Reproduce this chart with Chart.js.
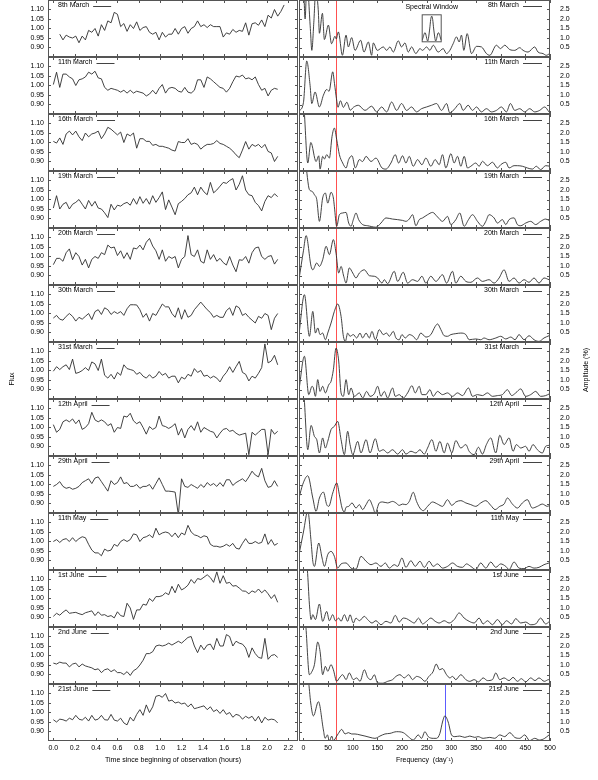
<!DOCTYPE html>
<html><head><meta charset="utf-8">
<script src="https://cdn.jsdelivr.net/npm/chart.js@4.4.0/dist/chart.umd.min.js"></script>
<style>
html,body{margin:0;padding:0;background:#fff;}
body{width:598px;height:780px;position:relative;overflow:hidden;}
canvas{position:absolute;}
</style></head><body>
<script>
// ---------- tick labels / categories ----------
const TIMES = [0,0.03,0.06,0.09,0.12,0.15,0.18,0.21,0.24,0.27,0.3,0.33,0.36,0.39,0.42,0.45,0.48,0.51,0.54,0.57,0.6,0.63,0.66,0.69,0.72,0.75,0.78,0.81,0.84,0.87,0.9,0.93,0.96,0.99,1.02,1.05,1.08,1.11,1.14,1.17,1.2,1.23,1.26,1.29,1.32,1.35,1.38,1.41,1.44,1.47,1.5,1.53,1.56,1.59,1.62,1.65,1.68,1.71,1.74,1.77,1.8,1.83,1.86,1.89,1.92,1.95,1.98,2.01,2.04,2.07,2.1,2.13,2.16];
const TIME_TICKS = [0,0.2,0.4,0.6,0.8,1.0,1.2,1.4,1.6,1.8,2.0,2.2];
const FLUX_TICKS = [0.90,0.95,1.00,1.05,1.10];
const FREQ_TICKS = [0,50,100,150,200,250,300,350,400,450,500];
const AMP_TICKS = [0.5,1.0,1.5,2.0,2.5];
const DATES = ['8th March','11th March','16th March','19th March','20th March','30th March','31st March','12th April','29th April','11th May','1st June','2nd June','21st June'];
const RED_FREQ = 67;
const BLUE_FREQ = 288;

// ---------- light curves (flux) ----------
const FLUX_08MAR = [null,null,0.97,0.94,0.965,0.955,0.95,0.96,0.925,0.96,0.94,0.99,0.98,1.00,0.96,1.02,0.99,1.04,1.03,1.085,1.075,1.01,1.026,0.985,1.02,1.00,1.035,0.99,1.005,1.01,0.98,0.97,0.98,0.94,0.98,0.955,0.97,0.97,1.00,0.97,1.00,1.01,0.975,1.00,1.01,1.04,1.01,1.02,1.005,1.02,1.01,1.01,1.01,0.955,0.977,0.97,0.995,0.98,0.99,0.985,1.03,0.965,1.025,1.03,1.017,1.045,1.01,1.07,1.055,1.10,1.065,1.09,1.124];
const FLUX_11MAR = [1.005,1.07,0.99,1.06,1.06,1.045,1.035,1.00,1.03,1.035,1.045,1.07,1.06,1.075,1.04,1.035,0.99,0.975,0.985,0.98,0.975,0.965,0.975,0.96,0.975,0.96,0.97,0.965,0.96,0.945,0.955,0.975,0.955,0.985,1.005,0.96,0.985,0.99,0.985,0.97,0.965,0.99,0.965,0.96,0.975,1.03,1.03,0.99,1.045,1.035,1.02,1.005,0.99,0.985,0.965,0.985,1.02,1.05,1.045,1.055,1.035,1.04,1.03,1.045,1.005,0.975,0.985,0.945,0.975,0.985,0.98];
const FLUX_16MAR = [1.006,0.997,1.024,0.99,1.045,1.06,1.04,1.06,1.03,1.01,1.05,1.03,1.045,1.05,1.06,1.02,1.045,1.08,1.07,1.055,1.04,1.055,1.00,1.045,1.035,1.05,0.97,1.02,1.02,1.006,1.006,0.985,0.99,0.98,0.98,0.975,0.97,0.96,0.955,1.005,1.00,1.00,1.02,0.99,0.997,0.99,0.965,0.98,0.99,0.99,0.995,1.01,0.995,0.99,0.98,0.97,0.955,0.935,0.92,0.96,1.005,0.965,0.99,0.98,0.99,0.972,0.99,0.953,0.945,0.90,0.927];
const FLUX_19MAR = [0.955,1.02,0.95,0.975,0.985,0.95,0.975,0.985,1.00,0.975,0.95,0.995,0.965,0.99,0.955,0.95,0.93,0.905,0.975,0.945,0.97,0.965,0.978,0.985,0.97,1.005,0.975,1.015,0.98,1.005,0.975,1.02,0.985,1.01,1.04,0.947,0.998,0.96,0.92,0.978,0.99,1.005,1.025,1.035,1.065,1.025,1.065,1.04,1.025,1.09,1.035,1.05,1.07,1.09,1.085,1.10,1.11,1.05,1.08,1.125,1.05,1.025,1.02,0.985,0.968,0.94,0.99,1.02,1.01,1.03,1.015];
const FLUX_20MAR = [0.957,0.99,0.99,0.975,1.02,1.04,0.983,1.02,1.00,0.955,0.985,0.94,0.985,1.00,0.99,1.02,1.01,1.06,1.045,1.05,1.005,1.03,0.99,1.02,0.985,1.045,1.04,1.06,1.035,1.075,1.095,1.055,1.03,0.985,1.035,0.975,1.00,0.99,1.00,0.94,0.985,1.00,1.11,1.01,1.00,1.035,0.975,0.965,1.035,0.985,1.01,0.975,0.99,0.968,0.955,1.00,0.955,0.92,0.983,0.98,1.00,0.965,1.02,1.045,1.05,1.00,0.985,1.00,1.005,0.96,0.985];
const FLUX_30MAR = [0.976,0.99,0.97,0.965,0.985,1.00,0.985,0.96,0.98,0.97,0.985,1.00,0.968,1.01,1.02,0.995,1.03,1.02,0.995,1.01,1.00,1.01,0.99,1.025,1.046,1.046,1.045,1.02,0.98,1.00,0.96,1.00,0.99,1.02,1.05,1.035,1.035,1.00,0.98,1.03,0.97,1.02,0.98,0.99,1.02,1.04,1.06,1.04,1.02,1.005,0.98,0.99,0.98,0.98,1.015,1.03,0.99,1.04,1.03,0.99,1.00,0.98,0.965,0.95,0.985,0.975,1.00,0.99,0.915,0.975,1.00];
const FLUX_31MAR = [0.996,1.02,1.005,1.02,1.03,1.005,1.06,0.985,0.99,1.00,1.015,1.00,1.045,1.035,1.00,1.06,0.975,0.96,0.98,0.955,0.99,0.975,1.03,1.01,1.005,1.00,0.98,0.99,0.97,0.96,0.978,0.96,0.97,0.995,0.975,0.985,0.96,0.97,0.97,0.935,0.965,0.955,0.98,0.97,1.01,0.99,1.00,0.97,0.975,0.96,0.97,0.96,0.94,0.97,0.99,1.02,0.99,1.02,1.048,0.99,0.98,0.945,0.97,0.96,0.985,1.015,1.14,1.04,1.05,1.08,1.03];
const FLUX_12APR = [1.015,0.975,0.99,1.03,1.04,1.03,1.045,1.02,1.04,0.99,1.00,1.02,1.08,1.04,1.03,1.04,1.03,1.01,1.02,0.975,1.00,0.995,1.06,1.055,1.075,1.035,1.02,1.03,1.00,0.965,1.005,0.99,1.00,1.06,1.01,1.005,0.995,1.005,1.02,0.96,0.995,0.945,0.99,1.01,0.985,1.03,0.975,1.00,0.99,0.98,0.975,0.945,0.97,0.99,0.995,0.98,0.985,0.97,0.96,0.965,0.97,0.857,0.975,0.96,0.975,0.99,0.99,0.857,0.99,0.965,0.98];
const FLUX_29APR = [0.99,1.00,1.015,0.99,0.98,0.985,0.975,0.98,0.99,1.01,1.02,1.03,1.005,1.034,1.04,1.015,0.99,0.965,1.02,1.00,1.01,1.04,1.005,1.01,0.99,0.99,1.00,0.98,0.99,0.99,1.00,0.975,1.005,1.035,1.00,0.965,0.965,0.963,0.96,0.84,1.03,0.99,0.985,1.00,0.99,0.98,1.00,0.985,1.01,0.995,1.005,0.99,1.01,0.99,1.025,1.025,0.995,1.01,1.02,1.03,1.015,1.04,1.07,1.05,1.04,1.085,1.02,0.985,0.99,1.02,0.99];
const FLUX_11MAY = [1.00,1.01,0.995,1.01,1.015,1.00,1.02,1.00,1.015,1.025,1.02,0.985,0.955,0.94,0.94,0.925,0.96,0.95,0.955,0.985,0.975,1.00,1.01,1.00,1.01,1.04,1.035,1.00,1.02,1.025,1.035,1.02,1.07,1.035,1.045,1.05,1.045,1.025,1.045,1.02,1.045,1.035,1.085,1.05,1.035,1.03,1.02,1.03,1.025,0.985,0.975,0.975,0.97,0.975,0.985,0.975,0.99,0.965,0.96,0.99,1.015,0.99,0.99,1.00,0.99,0.995,1.04,0.985,1.01,0.98,0.99];
const FLUX_01JUN = [0.906,0.922,0.912,0.928,0.94,0.922,0.925,0.927,0.92,0.915,0.925,0.93,0.935,0.91,0.93,0.912,0.915,0.905,0.91,0.898,0.93,0.91,0.905,0.975,0.95,0.89,0.94,0.94,0.97,0.965,1.00,0.985,1.01,1.01,1.015,1.03,1.02,1.064,1.03,1.075,1.045,1.055,1.07,1.10,1.08,1.105,1.10,1.112,1.125,1.11,1.085,1.14,1.08,1.12,1.08,1.085,1.065,1.068,1.055,1.04,1.038,1.025,1.04,1.032,1.05,1.03,1.045,1.025,1.00,1.02,0.98];
const FLUX_02JUN = [0.96,0.955,0.965,0.96,0.96,0.94,0.955,0.96,0.94,0.955,0.945,0.94,0.935,0.925,0.93,0.91,0.925,0.93,0.915,0.925,0.91,0.91,0.90,0.915,0.895,0.92,0.93,0.95,0.975,1.01,1.01,1.02,1.05,1.055,1.05,1.055,1.065,1.055,1.065,1.075,1.065,1.08,1.095,1.10,1.05,1.015,1.055,1.03,1.055,1.06,1.03,1.09,1.05,1.05,1.11,1.10,1.05,1.075,1.065,1.06,1.04,0.99,1.04,1.01,0.99,0.985,1.09,0.98,1.00,1.005,0.99];
const FLUX_21JUN = [0.962,0.95,0.965,0.962,0.955,0.97,0.962,0.985,0.965,0.96,0.975,0.955,0.985,0.96,0.965,0.985,0.962,0.96,0.99,0.96,0.955,0.97,0.945,0.935,0.975,0.955,0.99,1.015,0.985,1.04,1.00,1.03,1.085,1.09,1.08,1.10,1.06,1.065,1.05,1.055,1.045,1.05,1.03,1.045,1.02,1.025,1.03,1.035,1.015,1.03,1.005,1.015,0.995,1.015,0.99,1.00,0.975,0.99,0.985,0.965,0.98,0.97,0.98,0.955,0.98,0.945,0.975,0.96,0.965,0.962,0.945];

// ---------- periodograms: frequency (c/d) and amplitude (%) ----------
const F_08MAR = [-9,0,3.4,7,14,17,21,25,30,32.4,38.5,42.5,50.6,57,64,66.5,70.9,79,86.4,91.1,97.8,104.6,116,122.8,131.6,138.3,141.7,149.8,162,168.7,175.4,182.2,192.3,199,205.8,212.6,219.3,228,236.2,241.6,249.7,256.4,263.2,273.3,283.4,290.1,296.9,303.6,310.4,315.8,320.5,325.2,332,340.8,350.9,361,371.1,377.9,391.4,399.5,408.2,418.4,428.5,438.6,445.3,455.5,469,475.7,485.8,492.6,499.3];
const A_08MAR = [5,4,2.0,4,1.5,0.35,1.8,3.5,2.5,1.25,2.3,0.92,1.68,0.7,1.09,0.95,1.32,0.09,1.15,0.53,1.02,0.35,0.88,0.26,0.79,0.09,0.74,0.35,0.53,0.35,0.53,0.26,0.85,0.53,0.74,0.26,0.53,0.18,0.44,0.35,0.53,0.35,0.62,0.26,0.44,0.18,0.35,0.7,1.06,0.79,1.15,0.35,1.23,0.18,0.56,0.53,0.18,0.09,0.62,0.44,0.62,0.39,0.35,0.49,0.35,0.26,0.53,0.26,0.18,0.09,0.18];
const F_11MAR = [-9,0,6.7,13.5,16.9,23.6,32.4,40.5,47.2,52,59.4,63,67,70,75,81,88,95,101.2,111.3,124.8,138.3,148.4,158.6,168.7,178.8,189,199,209.2,219.3,229.4,239.5,249.7,259.8,269.9,280,290.2,296.9,307,317.1,323.9,334,342.8,350.9,361,371.1,381.2,391.4,401.5,411.6,419.7,428.5,438.6,448.7,458.8,469,479,489.2,498];
const A_11MAR = [0.15,0.6,2.79,1.5,0.55,1.16,0.37,0.99,1.29,1.2,2.22,1.6,0.8,0.35,0.7,0.35,0.62,0.2,0.35,0.46,0.19,0.41,0.11,0.37,0.11,0.63,0.19,0.55,0.19,0.37,0.11,0.28,0.37,0.46,0.55,0.19,0.55,0.05,0.28,0.55,0.19,0.46,0.19,0.37,0.11,0.28,0.11,0.19,0.37,0.11,0.55,0.19,0.28,0.11,0.28,0.11,0.19,0.37,0.11];
const F_16MAR = [-9,0,8.8,15,25.6,31,33.7,39,42.5,47.2,52.6,58,62.7,67.5,72.9,79.6,86.4,91.7,98.5,105.3,113.4,120,127,137,147,159.3,167.3,177.4,186.2,193,201,207.8,214.6,222.7,231.5,240.2,248.3,258.4,267.2,275.3,282,288.8,299,305.7,312.4,319.2,326,332.7,339.4,349.5,356.3,363,373.2,383.3,393.4,400,410.3,417,427.1,433.9,444,454.1,464.2,472.3,481,491.2,500];
const A_16MAR = [4,3.6,0.42,1.5,0.5,0.8,0.1,0.77,0.63,0.86,0.68,1.82,2.26,1.65,0.86,0.42,0.16,0.6,0.8,0.16,0.6,0.5,0.77,0.5,0.68,0.16,0.1,0.42,0.86,0.42,0.8,0.42,0.77,0.25,0.6,0.33,0.68,0.25,0.6,0.33,0.86,0.16,0.91,0.42,0.77,0.25,0.77,0.16,0.25,0.42,0.25,0.51,0.28,0.46,0.16,0.33,0.46,0.16,0.28,0.28,0.25,0.16,0.1,0.25,0.07,0.28,0.25];
const F_19MAR = [-9,0,4,12.1,17.5,22.3,27,32.4,39,44.5,49.3,56,60.7,62.7,67.5,72.9,79.6,86.4,91.8,96.5,101.2,106.6,112,120,130.2,147,157.2,167.3,180.8,191,201,207.8,214.6,221.3,228,234.8,241.6,251.7,261.8,272,282,292.2,299,309,317,325.9,334.7,342.8,353,363,369.8,376.5,386.6,393.4,403.5,410.3,417,427.1,433.9,440.6,450.7,460.8,471,481,491.2,498];
const A_19MAR = [4.5,4.0,3.5,2.02,1.93,1.75,1.5,0.35,1.58,1.84,1.31,1.88,1.58,1.14,0.09,0.7,0.79,0.82,0.26,0.09,0.44,0.79,0.44,0.18,0.12,0.04,0.26,0.53,0.47,0.44,0.4,0.35,0.47,0.7,0.12,0.44,0.53,0.7,0.82,0.58,0.35,0.61,0.18,0.44,0.79,0.09,0.44,0.7,0.35,0.09,0.35,0.7,0.53,0.26,0.44,0.18,0.44,0.53,0.18,0.12,0.26,0.35,0.18,0.35,0.47,0.4];
const F_20MAR = [-9,0,5.4,15.5,19,27,32.4,39,46,52.6,60.7,66.1,71.5,76.3,81.7,86.4,93,100,106.6,113.4,123.5,133.6,143.7,150.5,159.3,164,170.7,184.2,191,202.4,211.2,221.3,231.5,240.2,248.3,258.4,268.6,282,290.2,302.3,309,319.2,329.3,339.4,352.9,363,376.5,386.6,396.8,406.9,417,427.1,437.2,447.4,457.5,467.6,477.7,487.8,498];
const A_20MAR = [0.3,1.8,2.6,0.98,0.8,1.16,0.98,1.33,2.04,1.6,2.39,1.68,0.63,0.98,0.46,0.1,0.9,0.63,0.37,0.63,0.8,0.49,0.46,0.37,0.1,0.28,0.07,0.72,0.19,0.67,0.1,0.28,0.19,0.46,0.1,0.46,0.19,0.54,0.1,0.72,0.1,0.46,0.19,0.14,0.37,0.19,0.28,0.1,0.37,0.8,0.19,0.37,0.1,0.28,0.14,0.37,0.1,0.37,0.28];
const F_30MAR = [-9,2,12.1,19,24.3,29,33.7,39,44.5,49.3,56,62.7,69.5,76.3,81,85,89.7,94.5,101.2,108,114.7,120.1,127,133.6,139,145.7,153.8,161.9,168.7,174.1,182.2,187.6,194.3,199.7,206.5,214.6,222.7,229.4,238.2,248.3,258.4,267.2,271.9,278.7,285.4,292.2,299,309,319.2,329.3,336,349.5,359.6,366.4,376.5,390,400,410.3,420.4,429.2,437.2,447.4,457.5,467.6,477.7,487.8,498];
const A_30MAR = [0.4,2.49,0.3,1.61,0.47,0.74,0.39,0.47,0.12,0.47,1.0,1.61,2.0,1.35,0.3,0.03,0.47,0.3,0.39,0.21,0.47,0.21,0.47,0.21,0.56,0.12,0.65,0.39,0.47,0.3,0.56,0.21,0.12,0.39,0.21,0.39,0.3,0.12,0.47,0.26,0.39,0.82,0.95,0.65,0.33,0.3,0.39,0.44,0.47,0.39,0.12,0.16,0.12,0.21,0.12,0.21,0.3,0.16,0.26,0.12,0.39,0.12,0.33,0.12,0.03,0.21,0.33];
const F_31MAR = [-9,2,10.8,17.5,20.2,24.3,29,33.7,39,44.5,51.3,56,60.7,66.1,71.5,76.3,81,86.4,91.8,96.5,103.3,113.4,120.1,128.2,135,143.7,150.5,157.2,164,170.7,180.8,186.2,194.3,202.4,211.2,220,226.7,234.8,240.2,248.3,256.4,263.2,271.9,282,292.2,302.3,312.4,322.5,334.7,342.8,352.9,363,373.2,383.3,393.4,403.5,413.6,422.4,430.5,440.6,450.7,460.8,471,481,491.2,499.3];
const A_31MAR = [0.5,2.25,0.23,0.67,0.58,0.14,1.02,0.4,0.67,0.32,0.75,0.93,1.54,2.68,2.0,0.32,0.14,1.02,0.23,0.58,0.14,0.32,0.05,0.4,0.14,0.28,0.67,0.14,0.4,0.05,0.58,0.14,0.23,0.05,0.32,0.7,0.32,0.67,0.23,0.23,0.49,0.14,0.4,0.23,0.32,0.14,0.32,0.18,0.58,0.14,0.23,0.18,0.32,0.14,0.18,0.23,0.49,0.18,0.32,0.53,0.14,0.23,0.4,0.14,0.18,0.28];
const F_12APR = [-9,0,8.8,15.5,22.3,27,32.4,39,44.5,49.3,56,62.7,69.5,76.3,83,89.7,94.5,100,110,116.7,127,135,145.7,153.8,161.9,170.7,180.8,191,201,207.8,218,228,236.2,245,251.7,260.5,268.6,276.7,285.4,292.2,300.9,309,319.2,329.3,336,346.2,354.9,363,371,379.9,390,398.1,406.9,417,425.1,431.8,440.6,450.7,457.5,465.6,474.4,484.5,491.2,498];
const A_12APR = [4.0,3.5,0.33,1.61,1.03,0.86,0.16,0.95,0.42,0.77,1.39,1.56,1.82,0.86,0.07,1.3,0.6,0.07,0.77,0.16,0.86,0.16,0.91,0.25,0.33,0.16,0.33,0.1,0.33,0.1,0.25,0.16,0.33,0.1,0.42,0.86,0.25,0.77,0.16,0.68,0.16,0.81,0.42,0.6,0.25,0.07,0.46,0.1,0.6,0.95,0.16,1.09,0.6,0.95,0.25,0.6,0.42,0.51,0.25,0.6,0.33,0.16,0.51,0.56];
const F_29APR = [-9,-1.5,8.8,19,25.6,32.4,40.5,47.2,51.3,59.4,67.5,72.9,78.3,83,86.4,91.8,98.5,106.6,113.4,120,127,133.6,140.4,145.7,153.8,160.6,170.7,180.8,187.6,194.3,201,207.8,214.6,222.7,229.4,236.2,243,251.7,261.8,271.9,282,292.2,300.9,309,319.2,329.3,339.4,349.5,359.6,369.8,379.9,388.7,398.1,406.9,413.6,423.8,433.9,444,454.1,464.2,474.4,484.5,494.6,499.3];
const A_29APR = [0.79,1.5,1.96,0.79,0.09,0.79,1.1,0.44,0.35,1.05,1.58,0.96,0.26,0.05,0.3,0.35,0.53,0.26,0.44,0.18,0.44,0.7,0.35,0,0.53,0.58,0.53,0.61,0.53,0.4,0.47,0.44,0.61,1.09,0.61,0.26,0.12,0.35,0.58,0.47,0.35,0.7,0.4,0.58,0.65,0.53,0.44,0.35,0.53,0.65,0.4,0.18,0.35,0.47,0.79,0.47,0.26,0.53,0.7,0.26,0.35,0.47,0.35,0.4];
const F_11MAY = [-9,0,8.8,15.5,19,22.3,31,37.8,42.5,49.3,56,62.7,69.5,76.3,86.4,96.5,106.6,116.7,127,137,147,157.2,166,174.1,184.2,191,199.7,207.8,218,226.7,236.2,245,255,263.2,271.9,282,292.2,302.3,312.4,322.5,330.6,339.4,349.5,359.6,369.8,379.9,390,400,410.3,417,427.1,437.2,447.4,457.5,467.6,477.7,487.8,498];
const A_11MAY = [0.81,2.0,3.1,1.5,0.46,0.19,1.42,0.63,0.19,0.81,0.98,0.72,0.1,0.32,0.37,0.1,0.05,0.72,0.46,0.28,0.37,0.19,0.37,0.1,0.28,0.19,0.63,0.14,0.49,0.19,0.46,0.14,0.46,0.19,0.32,0.1,0.19,0.37,0.19,0.14,0.32,0.19,0.02,0.37,0.1,0.42,0.14,0.32,0.19,0.02,0.42,0.1,0.07,0.19,0.1,0.14,0.28,0.37];
const F_01JUN = [-9,3,8,12.1,15.5,19,24.3,32.4,39,47.2,52.6,59.4,64.8,71.5,76.3,83,89.7,94.5,101.2,106.6,113.4,123.5,130.2,139,147,157.2,167.3,177.4,186.2,194.3,202.4,209.1,217.9,224.6,233.5,241.6,249.7,258.4,267.2,275.3,285.4,295.5,305.7,315.8,325.9,336,346.2,356.3,364.4,373.2,383.3,393.4,403.5,411.6,422.4,430.5,440.6,450.7,460.8,471,481,491.2,499.3];
const A_01JUN = [4.5,4.0,3.0,1.2,0.39,0.65,0.39,1.21,0.3,0.82,0.33,0.65,0.33,0.47,0.3,0.65,0.3,0.65,0.21,0.47,0.33,0.56,0.39,0.21,0.33,0.12,0.3,0.21,0.61,0.26,0.47,0.44,0.3,0.21,0.47,0.16,0.3,0.47,0.3,0.21,0.33,0.21,0.39,0.74,0.47,0.3,0.21,0.47,0.16,0.33,0.12,0.39,0.12,0.33,0.16,0.44,0.21,0.26,0.12,0.16,0.47,0.16,0.3];
const F_02JUN = [-9,4,12.1,17.5,22.3,29,33.7,39,44.5,49.3,56,60.7,67.5,72.9,79.6,86.4,93,101.2,108,114.7,123.5,130.2,137,143.7,150.5,160.6,170.7,180.8,187.6,195.7,204.5,213.3,221.3,229.4,238.2,246.3,254.4,262.5,269.3,276,282,290.2,296.9,302.3,309,319.2,329.3,337.4,346.2,354.9,364.4,373.2,383.3,390,398.1,406.9,417,425.1,433.9,442,450.7,460.8,469.6,477.7,488.5,497.3,501];
const A_02JUN = [4.5,3.3,0.49,0.67,1.02,2.21,1.72,0.49,0.93,0.67,1.02,0.75,0.14,0.32,0.49,0.23,0.58,0.23,0.32,0.14,0.75,0.35,0.23,0.49,0.05,0.04,0.14,0.23,0.4,0.49,0.32,0.49,0.23,0.4,0.32,0.14,0.4,0.63,1.05,0.75,0.81,0.49,0.32,0.4,0.23,0.49,0.23,0.14,0.23,0.11,0.32,0.18,0.23,0.58,0.23,0.32,0.18,0.35,0.14,0.28,0.11,0.32,0.18,0.32,0.14,0.23,0.11];
const F_21JUN = [-9,10,14.8,20.2,30.4,40.5,43.9,48.6,52.6,57.4,60.7,67.5,70.9,77.6,84.4,91.1,97.8,104.6,114.7,124.8,135,145,155.2,165.3,175.4,188.9,202.4,212.6,222.7,232.8,239.5,246.3,253,263.2,269.9,276.7,282,286.8,293.5,300.3,307,317.1,327.3,337.4,347.5,354.3,364.4,377.9,388,398.1,408.2,418.4,428.5,438.6,448.7,458.8,468.9,479,489.2,498];
const A_21JUN = [5,3.2,2.0,1.32,2.07,0.58,0.14,0.32,0.0,0.26,0.02,0.26,0.4,0.61,0.37,0.44,0.37,0.37,0.32,0.26,0.19,0.14,0.26,0.37,0.4,0.49,0.44,0.23,0.05,0.32,0.14,0.49,0.23,0.14,0.14,0.4,1.0,1.32,1.0,0.32,0.23,0.26,0.19,0.26,0.19,0.23,0.14,0.19,0.14,0.32,0.23,0.44,0.19,0.14,0.32,0.02,0.14,0.05,0.14,0.32];

// ---------- spectral window inset ----------
const WIN_F = [-19,-13.3,-8,-4,-2,0,2,4,8,13.3,19];
const WIN_A = [0.08,0.36,0.05,0.5,0.85,0.98,0.85,0.5,0.05,0.36,0.08];

const FLUXES = [FLUX_08MAR,FLUX_11MAR,FLUX_16MAR,FLUX_19MAR,FLUX_20MAR,FLUX_30MAR,FLUX_31MAR,FLUX_12APR,FLUX_29APR,FLUX_11MAY,FLUX_01JUN,FLUX_02JUN,FLUX_21JUN];
const FREQS = [F_08MAR,F_11MAR,F_16MAR,F_19MAR,F_20MAR,F_30MAR,F_31MAR,F_12APR,F_29APR,F_11MAY,F_01JUN,F_02JUN,F_21JUN];
const AMPS = [A_08MAR,A_11MAR,A_16MAR,A_19MAR,A_20MAR,A_30MAR,A_31MAR,A_12APR,A_29APR,A_11MAY,A_01JUN,A_02JUN,A_21JUN];

// ---------- styling / layout ----------
const FONT = {family: '"Liberation Sans", Arial, Helvetica, sans-serif', size: 7};
const FONT_CSS = '7px "Liberation Sans", Arial, Helvetica, sans-serif';
const LINE_COLOR = '#2e2e2e';
const FRAME_COLOR = '#555';
const TL = 3;
const ROW_H = 57;

const panelDecor = {
  id: 'panelDecor',
  beforeDatasetsDraw(chart, args, o) {
    if (!o || !o.markers) return;
    const {ctx, chartArea: a} = chart;
    const x = chart.scales.x;
    ctx.save();
    o.markers.forEach(m => {
      const px = Math.round(x.getPixelForValue(m.value)) + 0.5;
      ctx.strokeStyle = m.color; ctx.lineWidth = 1;
      ctx.beginPath(); ctx.moveTo(px, a.top); ctx.lineTo(px, a.bottom); ctx.stroke();
    });
    ctx.restore();
  },
  afterDatasetsDraw(chart, args, o) {
    const {ctx, chartArea: a} = chart;
    const x = chart.scales.x, y = chart.scales.y;
    ctx.save();
    ctx.strokeStyle = FRAME_COLOR; ctx.lineWidth = 1;
    ctx.strokeRect(a.left + 0.5, a.top + 0.5, a.right - a.left - 1, a.bottom - a.top - 1);
    ctx.beginPath();
    (o.xTicks || []).forEach(v => {
      const px = Math.round(x.getPixelForValue(v)) + 0.5;
      ctx.moveTo(px, a.top); ctx.lineTo(px, a.top + TL);
      ctx.moveTo(px, a.bottom); ctx.lineTo(px, a.bottom - TL);
    });
    (o.yTicks || []).forEach(v => {
      const py = Math.round(y.getPixelForValue(v)) + 0.5;
      ctx.moveTo(a.left, py); ctx.lineTo(a.left + TL, py);
      ctx.moveTo(a.right, py); ctx.lineTo(a.right - TL, py);
    });
    ctx.stroke();
    ctx.font = FONT_CSS; ctx.fillStyle = '#000'; ctx.textBaseline = 'middle';
    if (o.label) {
      const ky = a.top + 5.5;
      let x0, x1;
      if (o.side === 'left') {
        ctx.textAlign = 'left';
        const tx = a.left + 10;
        ctx.fillText(o.label, tx, ky);
        x0 = tx + ctx.measureText(o.label).width + 4; x1 = x0 + 18;
      } else {
        ctx.textAlign = 'right';
        ctx.fillText(o.label, a.right - 31, ky);
        x0 = a.right - 27; x1 = a.right - 8;
      }
      ctx.strokeStyle = LINE_COLOR; ctx.lineWidth = 0.9;
      ctx.beginPath(); ctx.moveTo(x0, Math.round(ky) + 0.5); ctx.lineTo(x1, Math.round(ky) + 0.5); ctx.stroke();
    }
    if (o.topLabel) {
      ctx.textAlign = 'center';
      ctx.fillText(o.topLabel, (a.left + a.right) / 2, a.top - 7);
    }
    if (o.sideTitle) {
      const t = o.sideTitle;
      ctx.textAlign = 'center';
      ctx.translate(t.x, t.y); ctx.rotate(-Math.PI / 2);
      ctx.fillText(t.text, 0, 0);
    }
    ctx.restore();
  }
};
Chart.register(panelDecor);

function mkCanvas(left, top, w, h) {
  const c = document.createElement('canvas');
  c.width = w; c.height = h;
  c.style.left = left + 'px'; c.style.top = top + 'px';
  c.style.width = w + 'px'; c.style.height = h + 'px';
  document.body.appendChild(c);
  return c;
}
function series(xs, ys, smooth) {
  const pts = [];
  ys.forEach((v, i) => { if (v !== null && v !== undefined) pts.push({x: xs[i], y: v}); });
  return {data: pts, borderColor: LINE_COLOR, borderWidth: 0.9, pointRadius: 0, fill: false,
          tension: 0, cubicInterpolationMode: smooth ? 'monotone' : 'default'};
}
function noPad(s) { s.paddingTop = 0; s.paddingBottom = 0; s.paddingLeft = 0; s.paddingRight = 0; }
function axisY(min, max, ticks, pos, fmt, pad) {
  return {type: 'linear', position: pos, min: min, max: max,
    afterBuildTicks: s => { s.ticks = ticks.map(v => ({value: v})); },
    afterFit: s => { s.width = 48; noPad(s); },
    grid: {display: false, drawTicks: false}, border: {display: false},
    ticks: {autoSkip: false, padding: pad, font: FONT, color: '#000', callback: fmt}};
}
function axisX(min, max, ticks, show, fmt, title) {
  return {type: 'linear', position: 'bottom', min: min, max: max, display: show,
    afterBuildTicks: s => { s.ticks = ticks.map(v => ({value: v})); },
    afterFit: s => { s.height = show ? 39 : 0; noPad(s); },
    grid: {display: false, drawTicks: false}, border: {display: false},
    ticks: {autoSkip: false, maxRotation: 0, minRotation: 0, padding: 3, font: FONT, color: '#000', callback: fmt},
    title: {display: show, text: title, font: FONT, color: '#000', padding: {top: 0, bottom: 15.8}}};
}
const base = {responsive: false, animation: false, devicePixelRatio: 1, events: []};

DATES.forEach((label, i) => {
  const last = i === DATES.length - 1;
  const top = i * ROW_H - 2;
  const h = last ? 780 - top : ROW_H + 4;
  const cl = mkCanvas(0, top, 300, h);
  new Chart(cl, {
    type: 'line',
    data: {datasets: [series(TIMES, FLUXES[i], false)]},
    options: Object.assign({}, base, {
      layout: {padding: {left: 0, right: 2, top: 2, bottom: last ? 0 : 2}},
      plugins: {legend: {display: false}, tooltip: {enabled: false},
        panelDecor: {label: label, side: 'left', xTicks: TIME_TICKS, yTicks: FLUX_TICKS,
          sideTitle: i === 6 ? {text: 'Flux', x: 12, y: 379 - top} : null}},
      scales: {
        x: axisX(-0.05, 2.29, TIME_TICKS, last, v => v.toFixed(1), 'Time since beginning of observation (hours)'),
        y: axisY(0.85, 1.15, FLUX_TICKS, 'left', v => v.toFixed(2), 4)
      }
    })
  });
  const markers = [{value: RED_FREQ, color: '#ff5050'}];
  if (last) markers.push({value: BLUE_FREQ, color: '#5c5cff'});
  const cr = mkCanvas(297, top, 301, h);
  new Chart(cr, {
    type: 'line',
    data: {datasets: [series(FREQS[i], AMPS[i], true)]},
    options: Object.assign({}, base, {
      layout: {padding: {left: 2, right: 0, top: 2, bottom: last ? 0 : 2}},
      plugins: {legend: {display: false}, tooltip: {enabled: false},
        panelDecor: {label: label, side: 'right', xTicks: FREQ_TICKS, yTicks: AMP_TICKS, markers: markers,
          sideTitle: i === 6 ? {text: 'Amplitude (%)', x: 289, y: 370 - top} : null}},
      scales: {
        x: axisX(-9, 500, FREQ_TICKS, last, v => String(v), 'Frequency  (day\u207B\u00B9)'),
        y: axisY(0, 3, AMP_TICKS, 'right', v => v.toFixed(1), 10)
      }
    })
  });
});

// spectral window inset
const ci = mkCanvas(400, 2, 62, 42);
new Chart(ci, {
  type: 'line',
  data: {datasets: [series(WIN_F, WIN_A, true)]},
  options: Object.assign({}, base, {
    layout: {padding: {left: 21.7, right: 20.3, top: 12.3, bottom: 1.7}},
    plugins: {legend: {display: false}, tooltip: {enabled: false}, panelDecor: {topLabel: 'Spectral Window'}},
    scales: {x: {type: 'linear', min: -20, max: 20, display: false}, y: {type: 'linear', min: 0, max: 1.05, display: false}}
  })
});
</script>
</body></html>
